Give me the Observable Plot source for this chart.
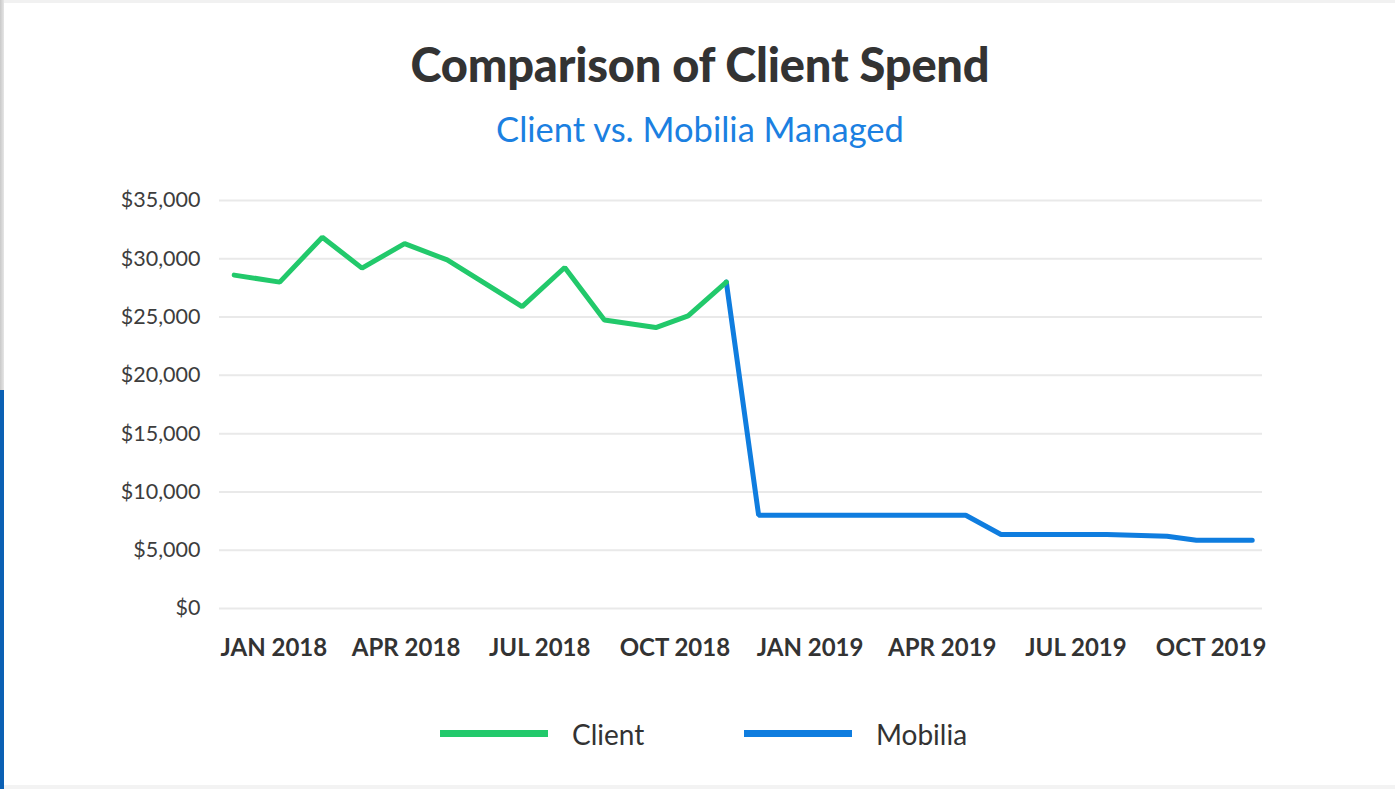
<!DOCTYPE html>
<html>
<head>
<meta charset="utf-8">
<script src="https://cdn.jsdelivr.net/npm/d3@7"></script>
<script src="https://cdn.jsdelivr.net/npm/@observablehq/plot@0.6"></script>
<style>
  html, body { margin: 0; padding: 0; background: #fff; }
  body { width: 1395px; height: 789px; position: relative; overflow: hidden; font-family: Lato, "Open Sans", sans-serif; }
  .strip-top { position: absolute; left: 0; top: 0; width: 1395px; height: 3px; background: #f1f1f1; }
  .strip-bottom { position: absolute; left: 0; bottom: 0; width: 1395px; height: 4px; background: #f3f3f3; }
  .strip-left { position: absolute; left: 0; top: 0; width: 4px; height: 390px; background: linear-gradient(to right, #c9c9c9, #e6e6e6); }
  .strip-blue { position: absolute; left: 0; top: 390px; width: 4px; height: 399px; background: #0b60b4; }
  #title { position: absolute; left: 0; width: 1400px; text-align: center; top: 41px; font-size: 47px; line-height: 1; font-weight: 900; color: #333; letter-spacing: -0.2px; }
  #subtitle { position: absolute; left: 0; width: 1400px; text-align: center; top: 112px; font-size: 34.5px; line-height: 1; font-weight: 400; color: #1b80e1; }
  #chart { position: absolute; left: 0; top: 170px; }
  .legend-swatch { position: absolute; height: 7px; width: 108px; top: 730px; }
  .legend-label { position: absolute; top: 720px; font-size: 28px; line-height: 1; color: #333; }
</style>
</head>
<body>
<div class="strip-top"></div>
<div class="strip-bottom"></div>
<div class="strip-left"></div>
<div class="strip-blue"></div>
<div id="title">Comparison of Client Spend</div>
<div id="subtitle">Client vs. Mobilia Managed</div>
<div id="chart"></div>
<div id="legend"></div>
<script>
// ---- Data ----
const clientDates  = ["2017-12-05","2018-01-05","2018-02-03","2018-03-02","2018-03-31","2018-04-29","2018-06-19","2018-07-18","2018-08-14","2018-09-18","2018-10-10","2018-11-05"];
const clientValues = [28600, 28000, 31850, 29200, 31300, 29900, 25900, 29250, 24750, 24100, 25100, 28000];

const mobiliaDates  = ["2018-11-05","2018-11-27","2019-04-17","2019-05-11","2019-07-22","2019-09-01","2019-09-21","2019-10-29"];
const mobiliaValues = [28000, 8000, 8000, 6350, 6350, 6200, 5850, 5850];

const xTickDates  = ["2018-01-01","2018-04-01","2018-07-01","2018-10-01","2019-01-01","2019-04-01","2019-07-01","2019-10-01"];
const xTickLabels = ["JAN 2018","APR 2018","JUL 2018","OCT 2018","JAN 2019","APR 2019","JUL 2019","OCT 2019"];
const yTicks = [0, 5000, 10000, 15000, 20000, 25000, 30000, 35000];

const seriesNames  = ["Client", "Mobilia"];
const seriesColors = ["#22c96b", "#0f7ddf"];

// ---- Build tables ----
const client  = clientDates.map((d, i) => ({date: new Date(d), value: clientValues[i]}));
const mobilia = mobiliaDates.map((d, i) => ({date: new Date(d), value: mobiliaValues[i]}));
const xTicks  = xTickDates.map(d => new Date(d));
const labelFor = d => xTickLabels[xTicks.findIndex(t => +t === +d)];

const chart = Plot.plot({
  width: 1395,
  height: 510,
  marginLeft: 219,
  marginRight: 133,
  marginTop: 30,
  marginBottom: 72,
  style: {fontFamily: "Lato, 'Open Sans', sans-serif", background: "transparent"},
  x: {type: "utc", domain: [new Date("2017-11-25"), new Date("2019-11-05")]},
  y: {domain: [0, 35000]},
  marks: [
    Plot.gridY(yTicks, {stroke: "#e9e9e9", strokeOpacity: 1, strokeWidth: 2}),
    Plot.axisY(yTicks, {tickSize: 0, tickPadding: 19, fontSize: 21.5, fill: "#3d3d3d",
      tickFormat: d => "$" + d3.format(",")(d), label: null}),
    Plot.axisX(xTicks, {tickSize: 0, tickPadding: 30, fontSize: 24, fontWeight: "bold", fill: "#333",
      tickFormat: labelFor, label: null}),
    Plot.line(mobilia, {x: "date", y: "value", stroke: seriesColors[1], strokeWidth: 5,
      strokeLinecap: "round", strokeLinejoin: "miter"}),
    Plot.line(client, {x: "date", y: "value", stroke: seriesColors[0], strokeWidth: 5,
      strokeLinecap: "round", strokeLinejoin: "miter"})
  ]
});
document.getElementById("chart").appendChild(chart);

// ---- Legend ----
const legend = document.getElementById("legend");
const swatchLeft = [440, 744];
const labelLeft = [572, 876];
seriesNames.forEach((name, i) => {
  const sw = document.createElement("div");
  sw.className = "legend-swatch";
  sw.style.left = swatchLeft[i] + "px";
  sw.style.background = seriesColors[i];
  legend.appendChild(sw);
  const lb = document.createElement("div");
  lb.className = "legend-label";
  lb.style.left = labelLeft[i] + "px";
  lb.textContent = name;
  legend.appendChild(lb);
});
</script>
</body>
</html>
